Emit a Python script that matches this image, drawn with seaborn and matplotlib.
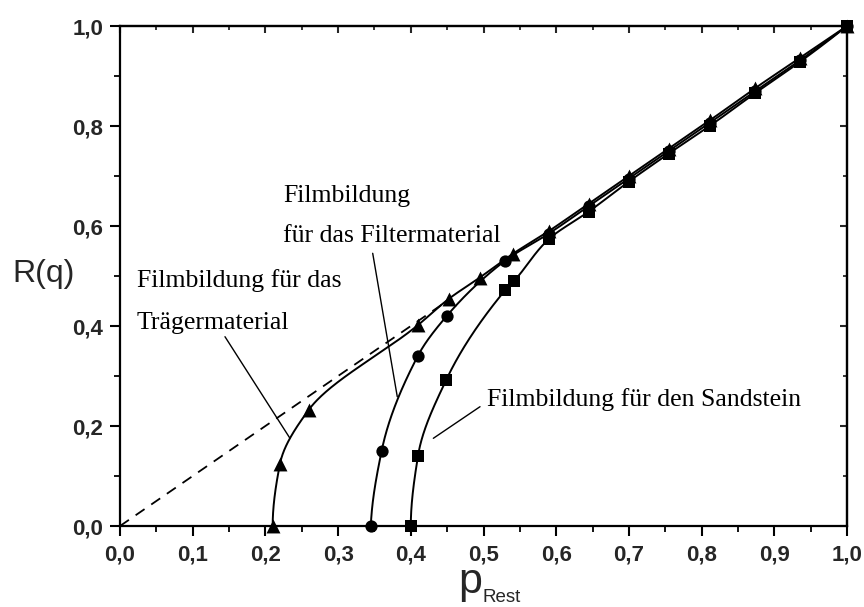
import numpy as np
import pandas as pd
import matplotlib
matplotlib.use("Agg")
import matplotlib.pyplot as plt
import seaborn as sns
from matplotlib.ticker import MultipleLocator, FixedLocator

# ---------------- data ----------------
tri_x = [0.21, 0.22, 0.26, 0.41, 0.452, 0.495, 0.541, 0.59, 0.645, 0.70, 0.755, 0.812, 0.874, 0.936, 1.0]
tri_y = [0.0, 0.124, 0.233, 0.402, 0.454, 0.497, 0.545, 0.59, 0.645, 0.70, 0.755, 0.812, 0.876, 0.937, 1.0]

circ_x = [0.345, 0.36, 0.41, 0.45, 0.53, 0.59, 0.645, 0.70, 0.755, 0.812, 0.874, 0.936, 1.0]
circ_y = [0.0, 0.151, 0.341, 0.421, 0.531, 0.585, 0.640, 0.695, 0.750, 0.807, 0.870, 0.932, 1.0]

sq_x = [0.40, 0.41, 0.449, 0.53, 0.542, 0.59, 0.645, 0.70, 0.755, 0.812, 0.874, 0.936, 1.0]
sq_y = [0.0, 0.141, 0.293, 0.472, 0.490, 0.574, 0.629, 0.689, 0.745, 0.801, 0.866, 0.929, 1.0]

diag_x = [0.0, 0.45]
diag_y = [0.0, 0.45]

x_ticks = [0.0, 0.1, 0.2, 0.3, 0.4, 0.5, 0.6, 0.7, 0.8, 0.9, 1.0]
x_tick_labels = ["0,0", "0,1", "0,2", "0,3", "0,4", "0,5", "0,6", "0,7", "0,8", "0,9", "1,0"]
y_ticks = [0.0, 0.2, 0.4, 0.6, 0.8, 1.0]
y_tick_labels = ["0,0", "0,2", "0,4", "0,6", "0,8", "1,0"]

annotations = [
    ("Filmbildung für das", 0.0234, 0.478),
    ("Trägermaterial", 0.0234, 0.394),
    ("Filmbildung", 0.224, 0.648),
    ("für das Filtermaterial", 0.224, 0.568),
    ("Filmbildung für den Sandstein", 0.505, 0.240),
]
pointers = [
    ((0.1444, 0.3786), (0.2338, 0.1754)),
    ((0.3476, 0.5454), (0.3814, 0.2586)),
    ((0.4952, 0.2386), (0.431, 0.1754)),
]


def pchip(xk, yk, xn):
    xk = np.asarray(xk, float)
    yk = np.asarray(yk, float)
    h = np.diff(xk)
    d = np.diff(yk) / h
    n = len(xk)
    m = np.zeros(n)
    for k in range(1, n - 1):
        if d[k - 1] * d[k] > 0:
            w1 = 2 * h[k] + h[k - 1]
            w2 = h[k] + 2 * h[k - 1]
            m[k] = (w1 + w2) / (w1 / d[k - 1] + w2 / d[k])
    def endslope(h0, h1, d0, d1):
        s = ((2 * h0 + h1) * d0 - h0 * d1) / (h0 + h1)
        if np.sign(s) != np.sign(d0):
            s = 0.0
        elif np.sign(d0) != np.sign(d1) and abs(s) > abs(3 * d0):
            s = 3 * d0
        return s
    m[0] = endslope(h[0], h[1], d[0], d[1])
    m[-1] = endslope(h[-1], h[-2], d[-1], d[-2])
    xn = np.asarray(xn, float)
    idx = np.clip(np.searchsorted(xk, xn) - 1, 0, n - 2)
    t = (xn - xk[idx]) / h[idx]
    h00 = 2 * t**3 - 3 * t**2 + 1
    h10 = t**3 - 2 * t**2 + t
    h01 = -2 * t**3 + 3 * t**2
    h11 = t**3 - t**2
    return (h00 * yk[idx] + h10 * h[idx] * m[idx] + h01 * yk[idx + 1]
            + h11 * h[idx] * m[idx + 1])


def smooth(xs, ys):
    yy = np.linspace(ys[0], ys[-1], 600)
    xx = pchip(ys, xs, yy)
    return pd.DataFrame({"x": xx, "y": yy})


# ---------------- figure ----------------
sns.set_style("ticks")
plt.rcParams["font.family"] = ["Liberation Sans", "DejaVu Sans"]

W, H = 864, 607
fig = plt.figure(figsize=(W / 100, H / 100), dpi=100)
ax = fig.add_axes([120 / W, 1 - 526 / H, 727 / W, 500 / H])

# dashed diagonal
sns.lineplot(x=diag_x, y=diag_y, ax=ax, color="black", lw=1.3,
             linestyle=(0, (6, 4.5)), sort=False, estimator=None)

for xs, ys, mk, s in [(tri_x, tri_y, "^", 100),
                      (circ_x, circ_y, "o", 78),
                      (sq_x, sq_y, "s", 66)]:
    df = smooth(xs, ys)
    sns.lineplot(data=df, x="x", y="y", ax=ax, color="black", lw=1.4,
                 sort=False, estimator=None)
    sns.scatterplot(x=xs, y=ys, ax=ax, marker=mk, s=s, color="black",
                    linewidth=0, clip_on=False, zorder=5)

for (x0, y0), (x1, y1) in pointers:
    ax.plot([x0, x1], [y0, y1], color="black", lw=1.0)

for txt, tx, ty in annotations:
    ax.text(tx, ty, txt, family="Liberation Serif", fontsize=18.5,
            ha="left", va="baseline", color="black")

ax.set_xlim(0, 1)
ax.set_ylim(0, 1)
ax.set_xlabel("")
ax.set_ylabel("")

ax.xaxis.set_major_locator(FixedLocator(x_ticks))
ax.yaxis.set_major_locator(FixedLocator(y_ticks))
ax.set_xticklabels(x_tick_labels, fontsize=16, fontweight="bold")
ax.set_yticklabels(y_tick_labels, fontsize=16, fontweight="bold")
ax.xaxis.set_minor_locator(MultipleLocator(0.05))
ax.yaxis.set_minor_locator(MultipleLocator(0.1))
ax.tick_params(which="major", direction="out", length=7.2, width=1.5,
               color="black", top=False, right=False)
ax.tick_params(which="minor", direction="out", length=4.5, width=1.3,
               color="black", top=False, right=False)
ax.tick_params(axis="x", which="major", pad=6)
ax.tick_params(axis="y", which="major", pad=5)

for sp in ax.spines.values():
    sp.set_visible(True)
    sp.set_linewidth(1.6)
    sp.set_color("black")

sec_x = ax.secondary_xaxis("top")
sec_x.xaxis.set_major_locator(FixedLocator(x_ticks))
sec_x.xaxis.set_minor_locator(MultipleLocator(0.05))
sec_x.tick_params(which="major", direction="in", length=5, width=1.5, labeltop=False)
sec_x.tick_params(which="minor", direction="in", length=3, width=1.3, labeltop=False)
sec_x.spines["top"].set_linewidth(1.6)

sec_y = ax.secondary_yaxis("right")
sec_y.yaxis.set_major_locator(FixedLocator(y_ticks))
sec_y.yaxis.set_minor_locator(MultipleLocator(0.1))
sec_y.tick_params(which="major", direction="in", length=5, width=1.5, labelright=False)
sec_y.tick_params(which="minor", direction="in", length=3, width=1.3, labelright=False)
sec_y.spines["right"].set_linewidth(1.6)

# axis labels
fig.text(75 / W, 1 - 274 / H, "R(q)", fontsize=23, ha="right", va="center")
fig.text(470 / W, 1 - 593 / H, "p", fontsize=31, ha="center", va="baseline")
fig.text(483 / W, 1 - 602 / H, "Rest", fontsize=13.5, ha="left", va="baseline")

fig.savefig("out.png", dpi=100, facecolor="white")
